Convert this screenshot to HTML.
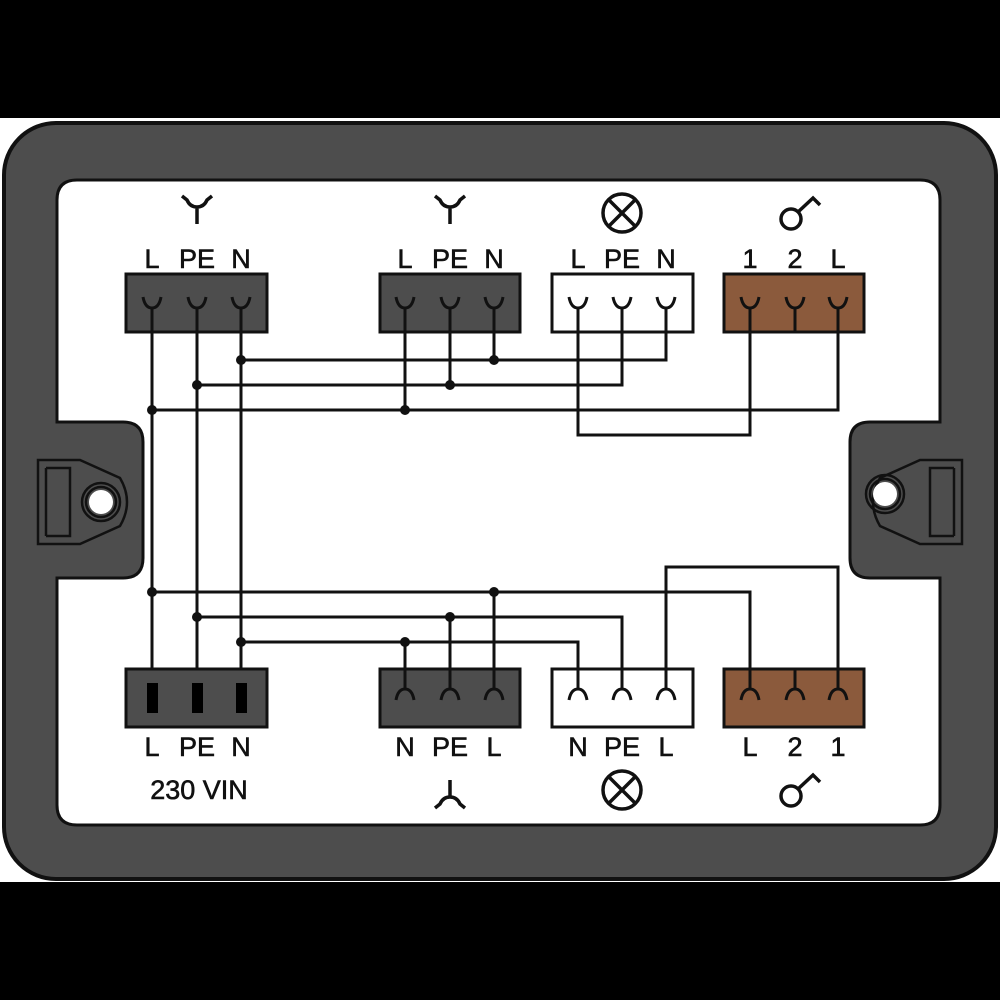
<!DOCTYPE html>
<html><head><meta charset="utf-8"><style>
html,body{margin:0;padding:0;background:#000;}
svg{display:block}
text{font-family:"Liberation Sans",sans-serif;font-size:27px;fill:#111;text-anchor:middle;stroke:#111;stroke-width:0.6;}
</style></head><body>
<svg width="1000" height="1000" viewBox="0 0 1000 1000" xmlns="http://www.w3.org/2000/svg">
<rect width="1000" height="1000" fill="#000"/>
<rect x="0" y="118" width="1000" height="764" fill="#fff"/>
<rect x="4" y="123" width="992" height="756" rx="52" fill="#4d4d4d" stroke="#111" stroke-width="4"/>
<path d="M77,180 H920 Q940,180 940,200 V422 H870 Q850,422 850,442 V558 Q850,578 870,578 H940 V805 Q940,825 920,825 H77 Q57,825 57,805 V578 H123 Q143,578 143,558 V442 Q143,422 123,422 H57 V200 Q57,180 77,180 Z" fill="#fff" stroke="#111" stroke-width="3"/>
<g fill="none" stroke="#111" stroke-width="2.5">
<path d="M38,460 H80 L120,478 Q134,502 120,526 L80,544 H38 Z"/>
<path d="M46,468 V536 M46,468 H70 V536 H46"/>
<circle cx="101" cy="502" r="19"/>
<circle cx="101" cy="502" r="15"/>
<path d="M962,460 H920 L880,478 Q866,502 880,526 L920,544 H962 Z"/>
<path d="M954,468 V536 M954,468 H930 V536 H954"/>
<circle cx="885" cy="494" r="19"/>
<circle cx="885" cy="494" r="15"/>
</g>
<circle cx="101" cy="502" r="12" fill="#fff"/>
<circle cx="885" cy="494" r="12" fill="#fff"/>
<g stroke="#111" stroke-width="3">
<rect x="126" y="274" width="141" height="58" fill="#4d4d4d"/>
<rect x="380" y="274" width="140" height="58" fill="#4d4d4d"/>
<rect x="552" y="274" width="141" height="58" fill="#fff"/>
<rect x="724" y="274" width="140" height="58" fill="#8b5a3c"/>
<rect x="126" y="669" width="141" height="58" fill="#4d4d4d"/>
<rect x="380" y="669" width="140" height="58" fill="#4d4d4d"/>
<rect x="552" y="669" width="141" height="58" fill="#fff"/>
<rect x="724" y="669" width="140" height="58" fill="#8b5a3c"/>
</g>
<g fill="none" stroke="#111" stroke-width="3">
<path d="M152,308 V669 M197,308 V669 M241,308 V669"/>
<path d="M241,360 H666 V308 M197,385 H622 V308 M152,410 H838 V308"/>
<path d="M405,308 V410 M450,308 V385 M494,308 V360"/>
<path d="M578,308 V435 H750 V308 M795,308 V332"/>
<path d="M152,592 H750 V689 M197,617 H622 V689 M241,642 H578 V689"/>
<path d="M405,642 V689 M450,617 V689 M494,592 V689"/>
<path d="M666,689 V567 H838 V689 M795,669 V689"/>
<path d="M143,297 Q145,308 152,308 Q159,308 161,297 M188,297 Q190,308 197,308 Q204,308 206,297 M232,297 Q234,308 241,308 Q248,308 250,297"/>
<path d="M396,297 Q398,308 405,308 Q412,308 414,297 M441,297 Q443,308 450,308 Q457,308 459,297 M485,297 Q487,308 494,308 Q501,308 503,297"/>
<path d="M569,297 Q571,308 578,308 Q585,308 587,297 M613,297 Q615,308 622,308 Q629,308 631,297 M657,297 Q659,308 666,308 Q673,308 675,297"/>
<path d="M741,297 Q743,308 750,308 Q757,308 759,297 M786,297 Q788,308 795,308 Q802,308 804,297 M829,297 Q831,308 838,308 Q845,308 847,297"/>
<path d="M396,700 Q398,689 405,689 Q412,689 414,700 M441,700 Q443,689 450,689 Q457,689 459,700 M485,700 Q487,689 494,689 Q501,689 503,700"/>
<path d="M569,700 Q571,689 578,689 Q585,689 587,700 M613,700 Q615,689 622,689 Q629,689 631,700 M657,700 Q659,689 666,689 Q673,689 675,700"/>
<path d="M741,700 Q743,689 750,689 Q757,689 759,700 M786,700 Q788,689 795,689 Q802,689 804,700 M829,700 Q831,689 838,689 Q845,689 847,700"/>
</g>
<g fill="#000"><rect x="147" y="683" width="11" height="30"/><rect x="192" y="683" width="11" height="30"/><rect x="236" y="683" width="11" height="30"/></g>
<g fill="#111">
<circle cx="241" cy="360" r="5"/><circle cx="494" cy="360" r="5"/>
<circle cx="197" cy="385" r="5"/><circle cx="450" cy="385" r="5"/>
<circle cx="152" cy="410" r="5"/><circle cx="405" cy="410" r="5"/>
<circle cx="152" cy="592" r="5"/><circle cx="494" cy="592" r="5"/>
<circle cx="197" cy="617" r="5"/><circle cx="450" cy="617" r="5"/>
<circle cx="241" cy="642" r="5"/><circle cx="405" cy="642" r="5"/>
</g>
<g fill="none" stroke="#111" stroke-width="3.5">
<path d="M182,196 L187,200 Q190,207 197,207 Q204,207 207,200 L212,196 M197,207 V224"/>
<path d="M435,196 L440,200 Q443,207 450,207 Q457,207 460,200 L465,196 M450,207 V224"/>
<path d="M435,808 L440,804 Q443,797 450,797 Q457,797 460,804 L465,808 M450,797 V780"/>
<circle cx="622" cy="213" r="19"/><path d="M608,199 L636,227 M636,199 L608,227"/>
<circle cx="622" cy="790" r="19"/><path d="M608,776 L636,804 M636,776 L608,804"/>
<circle cx="791" cy="219" r="10"/><path d="M798,212 L813,198 L820,205"/>
<circle cx="791" cy="796" r="10"/><path d="M798,789 L813,775 L820,782"/>
</g>
<g>
<text x="152" y="268">L</text><text x="197" y="268">PE</text><text x="241" y="268">N</text>
<text x="405" y="268">L</text><text x="450" y="268">PE</text><text x="494" y="268">N</text>
<text x="578" y="268">L</text><text x="622" y="268">PE</text><text x="666" y="268">N</text>
<text x="750" y="268">1</text><text x="795" y="268">2</text><text x="838" y="268">L</text>
<text x="152" y="756">L</text><text x="197" y="756">PE</text><text x="241" y="756">N</text>
<text x="405" y="756">N</text><text x="450" y="756">PE</text><text x="494" y="756">L</text>
<text x="578" y="756">N</text><text x="622" y="756">PE</text><text x="666" y="756">L</text>
<text x="750" y="756">L</text><text x="795" y="756">2</text><text x="838" y="756">1</text>
<text x="199" y="799">230 VIN</text>
</g>
</svg>
</body></html>
